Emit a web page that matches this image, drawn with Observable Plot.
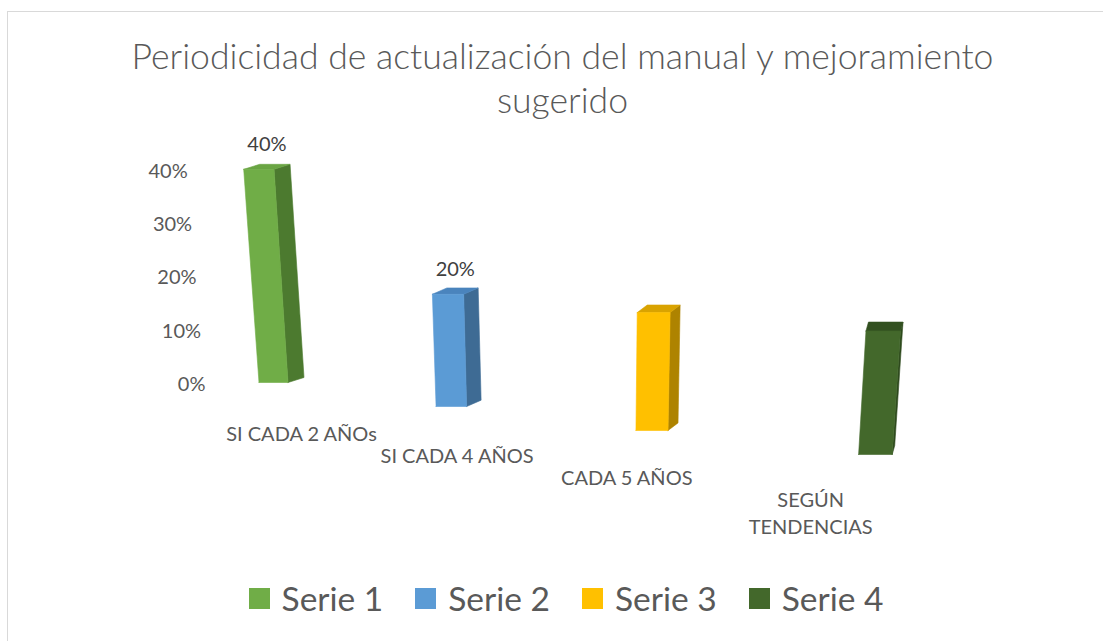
<!DOCTYPE html>
<html>
<head>
<meta charset="utf-8">
<script src="https://cdn.jsdelivr.net/npm/d3@7"></script>
<script src="https://cdn.jsdelivr.net/npm/@observablehq/plot@0.6"></script>
<style>
  html, body { margin: 0; padding: 0; background: #fff; width: 1103px; height: 641px; overflow: hidden; font-family: Lato, "Open Sans", sans-serif; }
  #frame { position: absolute; left: 7px; top: 11px; width: 1200px; height: 700px; border-left: 1.5px solid #D9D9D9; border-top: 1.5px solid #D9D9D9; }
  #title { position: absolute; left: 0; width: 1125px; top: 34px; text-align: center; font-size: 35.6px; line-height: 44px; color: #595959; font-weight: 300; }
  #chart { position: absolute; left: 0; top: 125px; }
  #legend { position: absolute; top: 576px; left: 0; width: 1132px; height: 44px; display: flex; justify-content: center; align-items: center; color: #595959; font-size: 33.5px; }
  .item { display: flex; align-items: center; margin: 0 16px; }
  .sw { width: 21px; height: 21px; margin-right: 12px; }
</style>
</head>
<body>
<div id="frame"></div>
<div id="title">Periodicidad de actualización del manual y mejoramiento<br>sugerido</div>
<div id="chart"></div>
<div id="legend"></div>
<script>
// ---- data ----
const categories = ["SI CADA 2 AÑOs", "SI CADA 4 AÑOS", "CADA 5 AÑOS", "SEGÚN\nTENDENCIAS"];
const seriesNames = ["Serie 1", "Serie 2", "Serie 3", "Serie 4"];
const values = [0.40, 0.20, 0.20, 0.20];
const yTicks = [0, 0.1, 0.2, 0.3, 0.4];
const labelledSeries = ["Serie 1", "Serie 2"];

// ---- styles ----
const frontColors = ["#70AD47", "#5B9BD5", "#FFC000", "#43682B"];
const sideColors  = ["#4C7A2F", "#3E6B94", "#AE8300", "#2E4A1D"];
const topColors   = ["#6AA543", "#4A84BD", "#D9A300", "#325020"];
const textColor = "#595959";

// ---- layout / perspective ----
const W = 1103, H = 430;
const X0 = 273, XU = 215;   // x scale: px = X0 + XU * u
const Y0 = 257, YU = 533;   // y scale: px = Y0 - YU * v
const VX = 1189, PERSP = 0.053, DROP = 24, SLANT = 0.000219, SLANT_X = 586;
const HALF_W = 14.5 / XU;
const AXIS_X = (205 - X0) / XU;
const sideOffset = z => [16 - 1.5 * z * z, -(5 + 1.3 * z)];

function proj(X, v, Z, dx = 0, dy = 0) {
  const s = 1 + PERSP * Z;
  const cx = VX + (X0 + XU * X - VX) * s;
  const h = v * YU * s;
  const px = cx + (cx - SLANT_X) * SLANT * h + dx;
  const py = Y0 + DROP * Z - h + dy;
  return {x: (px - X0) / XU, y: (Y0 - py) / YU};
}

const bars = categories.map((cat, i) => ({cat, series: seriesNames[i], value: values[i], i}));

const rows = [];
for (const b of bars) {
  const i = b.i, v = b.value;
  const [ox, oy] = sideOffset(i);
  const fl0 = proj(i - HALF_W, 0, i), fr0 = proj(i + HALF_W, 0, i);
  const fr1 = proj(i + HALF_W, v, i), fl1 = proj(i - HALF_W, v, i);
  const br1 = proj(i + HALF_W, v, i, ox, oy), br0 = proj(i + HALF_W, 0, i, ox, oy);
  const bl1 = proj(i - HALF_W, v, i, ox, oy);
  const faces = [
    ["side", sideColors[i], [fr0, fr1, br1, br0]],
    ["top", topColors[i], [fl1, fr1, br1, bl1]],
    ["front", frontColors[i], [fl0, fr0, fr1, fl1]]
  ];
  for (const [name, color, pts] of faces) {
    for (const p of [...pts, pts[0]]) rows.push({key: b.series + "-" + name, x: p.x, y: p.y, color});
  }
}

const pct = d3.format(".0%");

const chart = Plot.plot({
  width: W, height: H,
  marginTop: 0, marginBottom: 0, marginLeft: 0, marginRight: 0,
  x: {domain: [(0 - X0) / XU, (W - X0) / XU], axis: null},
  y: {domain: [(Y0 - H) / YU, Y0 / YU], axis: null},
  color: {type: "identity"},
  style: {background: "transparent", fontFamily: "Lato, 'Open Sans', sans-serif", overflow: "visible"},
  marks: [
    Plot.line(rows, {x: "x", y: "y", z: "key", fill: "color", stroke: "color", strokeWidth: 0.6}),
    Plot.text(yTicks, {
      x: t => proj(AXIS_X, t, 0).x,
      y: t => proj(AXIS_X, t, 0, 0, 2).y,
      text: t => pct(t), textAnchor: "end", fontSize: 20, fill: textColor
    }),
    Plot.text(bars.filter(b => labelledSeries.includes(b.series)), {
      x: b => proj(b.i, b.value, b.i, sideOffset(b.i)[0] / 2, 0).x,
      y: b => proj(b.i, b.value, b.i, 0, -25).y,
      text: b => pct(b.value), fontSize: 20, fill: "#404040"
    }),
    Plot.text(bars, {
      x: b => proj(b.i, 0, b.i, 28 - 18 * b.i - 4.3 * b.i * b.i, 0).x,
      y: b => proj(b.i, 0, b.i, 0, 50 - 2 * b.i + (b.cat.split("\n").length - 1) * 27 / 2).y,
      text: "cat", lineHeight: 1.35, fontSize: 20, fill: textColor
    })
  ]
});
document.getElementById("chart").appendChild(chart);

const legend = document.getElementById("legend");
seriesNames.forEach((s, i) => {
  const item = document.createElement("div");
  item.className = "item";
  const sw = document.createElement("div");
  sw.className = "sw";
  sw.style.background = frontColors[i];
  const label = document.createElement("span");
  label.textContent = s;
  item.appendChild(sw);
  item.appendChild(label);
  legend.appendChild(item);
});
</script>
</body>
</html>
